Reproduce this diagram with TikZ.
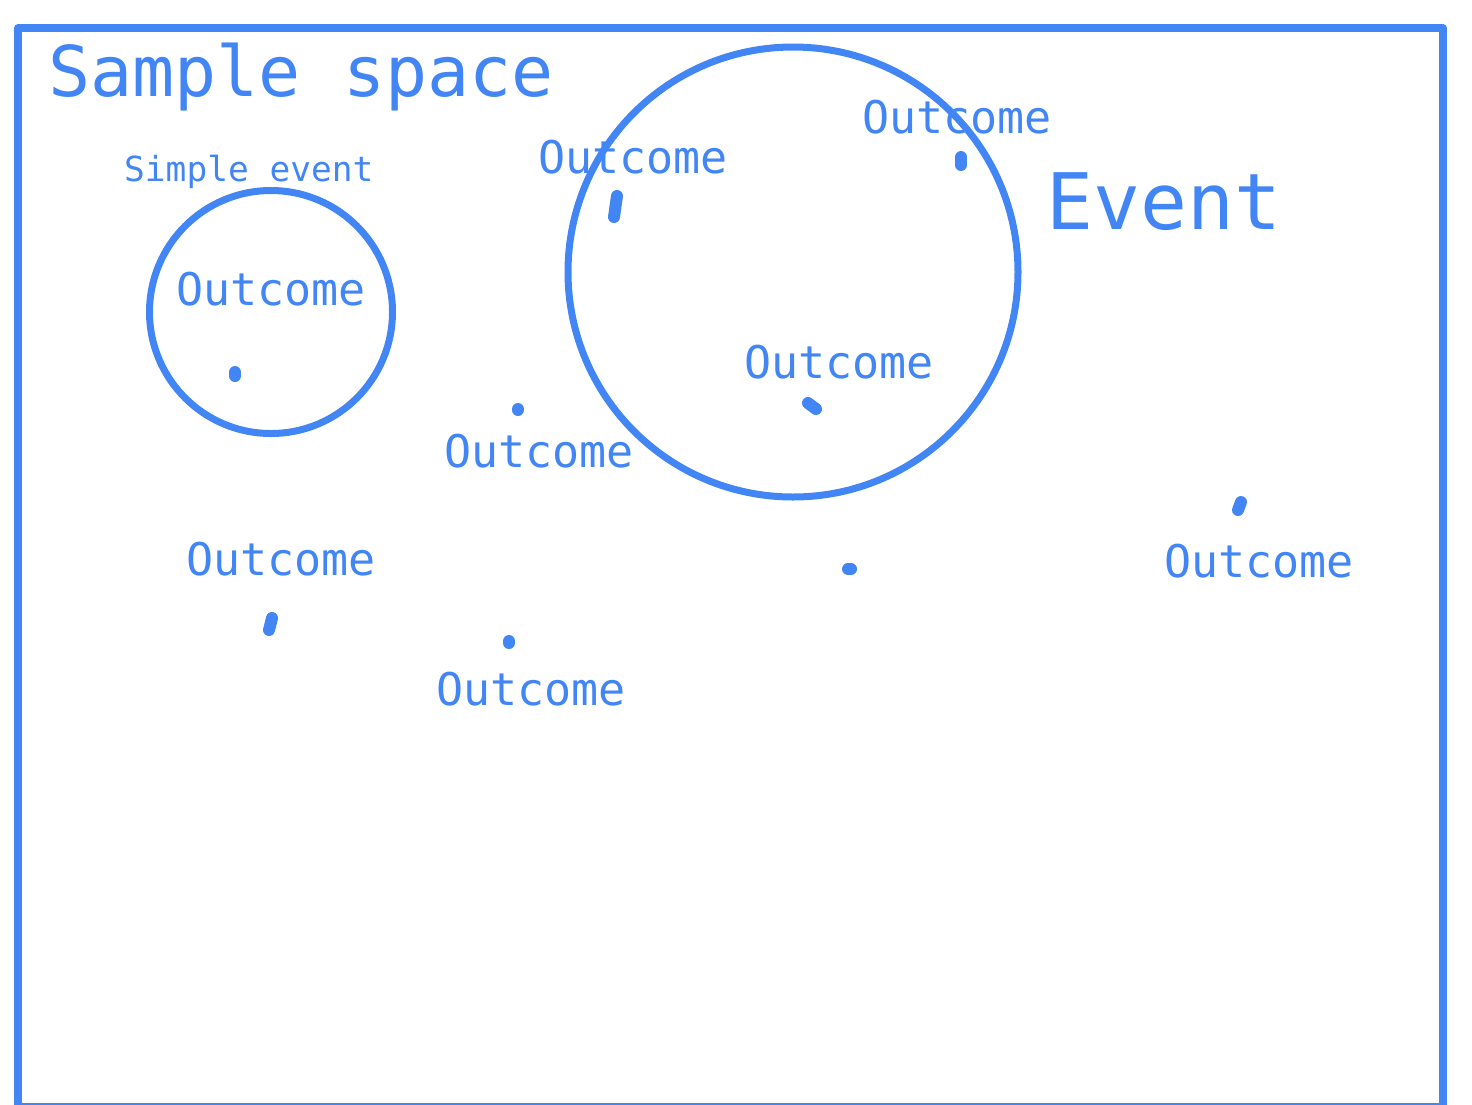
\documentclass[tikz,border=0pt]{standalone}
\usepackage{fontspec}
\setmonofont{DejaVu Sans Mono}
\usepackage{xcolor}
\definecolor{gblue}{HTML}{4285F4}

\begin{document}
\begin{tikzpicture}[x=1pt,y=-1pt,
  txt/.style={anchor=base west,inner sep=0pt,text=gblue},
  outcome/.style={txt,font=\ttfamily\fontsize{45}{45}\selectfont},
  ring/.style={draw=gblue,line width=7pt,circle,inner sep=0pt},
  blob/.style={draw=gblue,line width=12pt,line cap=round}]

\useasboundingbox (0,0) rectangle (1472,1104) ;

%sample space frame
\draw [draw=gblue,line width=7.5pt,line join=round] (18,28) rectangle (1443,1107) ;
\node [txt,font=\ttfamily\fontsize{70}{70}\selectfont] (space) at (48,96) {Sample space} ;

%simple event
\node [ring,minimum size=243pt] (simple) at (271,312) {} ;
\node [txt,font=\ttfamily\fontsize{34.5}{34.5}\selectfont] (simplelab) at (124,181) {Simple event} ;

%event
\node [ring,minimum size=450pt] (event) at (793,272) {} ;
\node [txt,font=\ttfamily\fontsize{78}{78}\selectfont] (eventlab) at (1046,229) {Event} ;

%outcome labels
\node [outcome] (o1) at (176,305) {Outcome} ;
\node [outcome] (o2) at (538,173) {Outcome} ;
\node [outcome] (o3) at (862,133) {Outcome} ;
\node [outcome] (o4) at (744,378) {Outcome} ;
\node [outcome] (o5) at (444,467) {Outcome} ;
\node [outcome] (o6) at (186,575) {Outcome} ;
\node [outcome] (o7) at (1164,577) {Outcome} ;
\node [outcome] (o8) at (436,705) {Outcome} ;

%outcome marks
\draw [blob] (235,372) -- (235,376) ;
\draw [blob] (617,196) -- (614,217) ;
\draw [blob] (961,157) -- (961,165) ;
\draw [blob] (808,403) -- (816,409) ;
\draw [blob] (518,409) -- (518,410) ;
\draw [blob] (848,569) -- (851,569) ;
\draw [blob] (1241,502) -- (1238,510) ;
\draw [blob] (272,618) -- (269,630) ;
\draw [blob] (509,641) -- (509,643) ;

\end{tikzpicture}
\end{document}
